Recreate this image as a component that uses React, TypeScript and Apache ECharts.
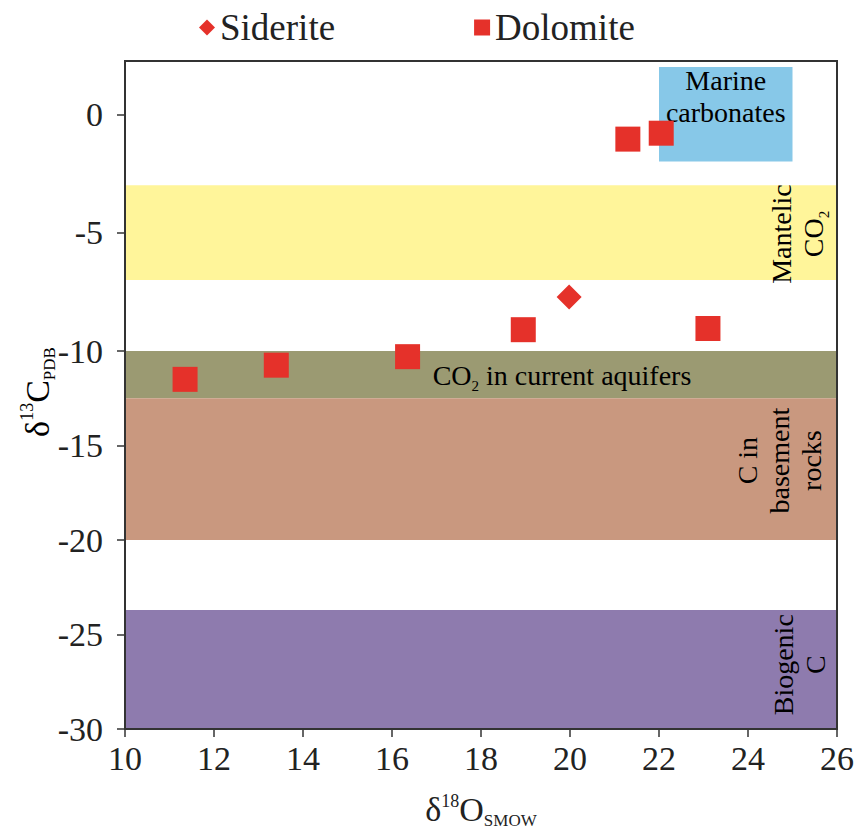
import React, { useEffect, useRef } from "react";
import * as echarts from "echarts";

// ---- data ----
const xTicks = [10, 12, 14, 16, 18, 20, 22, 24, 26];
const upperYTicks = [-5, 0];
const lowerYTicks = [-30, -25, -20, -15, -10];

const sideriteData: number[][] = [[19.98, -7.72]];
const dolomiteData: number[][] = [
  [11.35, -11.5],
  [13.4, -10.75],
  [16.35, -10.3],
  [18.95, -9.1],
  [21.3, -1.05],
  [22.05, -0.8],
  [23.1, -9.05],
];

// horizontal bands: [from, to] in δ13C
const mantelicBand = [-3, -7];
const aquiferBand = [-10, -12.5];
const basementBand = [-12.5, -20];
const biogenicBand = [-23.7, -30];
// marine carbonates box: x range, y range
const marineX = [22, 25];
const marineY = [-2, 2];

const SERIF = "'Liberation Serif', 'Times New Roman', serif";
const RED = "#E5312A";

export default function App() {
  const ref = useRef<HTMLDivElement>(null);

  useEffect(() => {
    if (!ref.current) return;
    document.body.style.margin = "0";
    const chart = echarts.init(ref.current, null, { renderer: "svg" });

    const gridLeft = 125;
    const gridRight = 855 - 837;
    const upperTop = 61;
    const split = 351;
    const bottom = 729;

    const split10 = -10;
    const upperDol = dolomiteData.filter((d) => d[1] >= split10);
    const lowerDol = dolomiteData.filter((d) => d[1] < split10);
    const upperSid = sideriteData.filter((d) => d[1] >= split10);
    const lowerSid = sideriteData.filter((d) => d[1] < split10);

    const band = (yr: number[], color: string, xr = [10, 26]) => [
      { xAxis: xr[0], yAxis: yr[0], itemStyle: { color, opacity: 1 } },
      { xAxis: xr[1], yAxis: yr[1] },
    ];

    const axisLineStyle = { color: "#333", width: 2 };
    const labelStyle = { fontFamily: SERIF, fontSize: 34, color: "#222" };
    const pointStyle = { color: RED, opacity: 1 };

    chart.setOption({
      animation: false,
      backgroundColor: "#fff",
      legend: {
        top: 4,
        left: 194,
        itemWidth: 16,
        itemHeight: 16,
        itemGap: 139,
        data: ["Siderite", "Dolomite"],
        textStyle: { fontFamily: SERIF, fontSize: 37, color: "#222" },
      },
      grid: [
        { left: gridLeft, right: gridRight, top: upperTop, height: split - upperTop, outerBoundsMode: "none", containLabel: false },
        { left: gridLeft, right: gridRight, top: split, height: bottom - split, outerBoundsMode: "none", containLabel: false },
      ],
      xAxis: [
        { gridIndex: 0, type: "value", min: 10, max: 26, interval: 2, show: false },
        {
          gridIndex: 1,
          type: "value",
          min: 10,
          max: 26,
          interval: 2,
          axisLine: { lineStyle: axisLineStyle },
          axisTick: { inside: false, length: 8, lineStyle: { color: "#333", width: 1.5 }, customValues: xTicks },
          axisLabel: { ...labelStyle, margin: 12, customValues: xTicks },
          splitLine: { show: false },
          name: "{d|δ}{sup|18}{d|O}{sub|SMOW}",
          nameLocation: "middle",
          nameGap: 63,
          nameTextStyle: {
            fontFamily: SERIF,
            color: "#222",
            rich: {
              d: { fontFamily: SERIF, fontSize: 34, color: "#222", verticalAlign: "bottom" },
              sup: { fontFamily: SERIF, fontSize: 18, color: "#222", verticalAlign: "top" },
              sub: { fontFamily: SERIF, fontSize: 17, color: "#222", verticalAlign: "bottom", padding: [0, 0, -3, 0] },
            },
          },
        },
      ],
      yAxis: [
        {
          gridIndex: 0,
          type: "value",
          min: -10,
          max: 2.25,
          axisLine: { lineStyle: axisLineStyle },
          axisTick: { length: 8, lineStyle: { color: "#333", width: 1.5 }, customValues: upperYTicks },
          axisLabel: { ...labelStyle, margin: 22, customValues: upperYTicks },
          splitLine: { show: false },
        },
        {
          gridIndex: 1,
          type: "value",
          min: -30,
          max: -10,
          interval: 5,
          axisLine: { lineStyle: axisLineStyle },
          axisTick: { length: 8, lineStyle: { color: "#333", width: 1.5 }, customValues: lowerYTicks },
          axisLabel: { ...labelStyle, margin: 22, customValues: lowerYTicks },
          splitLine: { show: false },
        },
      ],
      series: [
        {
          type: "scatter",
          name: "bandsUpper",
          xAxisIndex: 0,
          yAxisIndex: 0,
          data: [],
          z: 1,
          silent: true,
          markArea: {
            silent: true,
            label: { show: false },
            data: [band(mantelicBand, "#FFF59A"), band(marineY, "#87C8E8", marineX)],
          },
        },
        {
          type: "scatter",
          name: "bandsLower",
          xAxisIndex: 1,
          yAxisIndex: 1,
          data: [],
          z: 1,
          silent: true,
          markArea: {
            silent: true,
            label: { show: false },
            data: [
              band(aquiferBand, "#9B9A72"),
              band(basementBand, "#C9987F"),
              band(biogenicBand, "#8E7BAE"),
            ],
          },
        },
        {
          type: "scatter",
          name: "Siderite",
          xAxisIndex: 0,
          yAxisIndex: 0,
          symbol: "diamond",
          symbolSize: 25,
          clip: false,
          z: 5,
          itemStyle: pointStyle,
          data: upperSid,
        },
        {
          type: "scatter",
          name: "Siderite",
          xAxisIndex: 1,
          yAxisIndex: 1,
          symbol: "diamond",
          symbolSize: 25,
          clip: false,
          z: 5,
          itemStyle: pointStyle,
          data: lowerSid,
        },
        {
          type: "scatter",
          name: "Dolomite",
          xAxisIndex: 0,
          yAxisIndex: 0,
          symbol: "rect",
          symbolSize: 25,
          clip: false,
          z: 5,
          itemStyle: pointStyle,
          data: upperDol,
        },
        {
          type: "scatter",
          name: "Dolomite",
          xAxisIndex: 1,
          yAxisIndex: 1,
          symbol: "rect",
          symbolSize: 25,
          clip: false,
          z: 5,
          itemStyle: pointStyle,
          data: lowerDol,
        },
      ],
    });

    const bandFont = 28;
    const richBand = {
      n: { fontFamily: SERIF, fontSize: bandFont, color: "#222", verticalAlign: "bottom", lineHeight: 32 },
      s: { fontFamily: SERIF, fontSize: 15, color: "#222", verticalAlign: "bottom", lineHeight: 32, padding: [0, 0, -4, 0] },
    };

    const labels = [
      { text: "{n|Marine}\n{n|carbonates}", at: [23.5, 0.84], grid: 0, rot: 0 },
      { text: "{n|Mantelic}\n{n|CO}{s|2}", at: [25.06, -5.06], grid: 0, rot: Math.PI / 2 },
      { text: "{n|CO}{s|2}{n| in current aquifers}", at: [19.82, -11.2], grid: 1, rot: 0 },
      { text: "{n|C in}\n{n|basement}\n{n|rocks}", at: [24.67, -15.8], grid: 1, rot: Math.PI / 2 },
      { text: "{n|Biogenic}\n{n|C}", at: [25.12, -26.6], grid: 1, rot: Math.PI / 2 },
    ];

    const graphics: any[] = labels.map((l, i) => {
      const p = chart.convertToPixel({ gridIndex: l.grid }, l.at) as number[];
      return {
        type: "text",
        id: "lbl" + i,
        x: p[0],
        y: p[1],
        rotation: l.rot,
        z: 3,
        silent: true,
        style: {
          text: l.text,
          align: "center",
          verticalAlign: "middle",
          rich: richBand,
        },
      };
    });

    graphics.push({
      type: "text",
      id: "ytitle",
      x: 36,
      y: 392,
      rotation: Math.PI / 2,
      z: 3,
      silent: true,
      style: {
        text: "{d|δ}{sup|13}{d|C}{sub|PDB}",
        align: "center",
        verticalAlign: "middle",
        rich: {
          d: { fontFamily: SERIF, fontSize: 34, color: "#222", verticalAlign: "bottom", lineHeight: 36 },
          sup: { fontFamily: SERIF, fontSize: 18, color: "#222", verticalAlign: "top", lineHeight: 36 },
          sub: { fontFamily: SERIF, fontSize: 17, color: "#222", verticalAlign: "bottom", lineHeight: 36, padding: [0, 0, -4, 0] },
        },
      },
    });

    graphics.push({
      type: "rect",
      id: "frame",
      z: 10,
      silent: true,
      shape: { x: gridLeft, y: upperTop, width: 837 - gridLeft, height: bottom - upperTop },
      style: { fill: "none", stroke: "#333", lineWidth: 2 },
    });

    chart.setOption({ graphic: graphics });

    return () => chart.dispose();
  }, []);

  return <div ref={ref} style={{ width: 855, height: 829 }} />;
}
